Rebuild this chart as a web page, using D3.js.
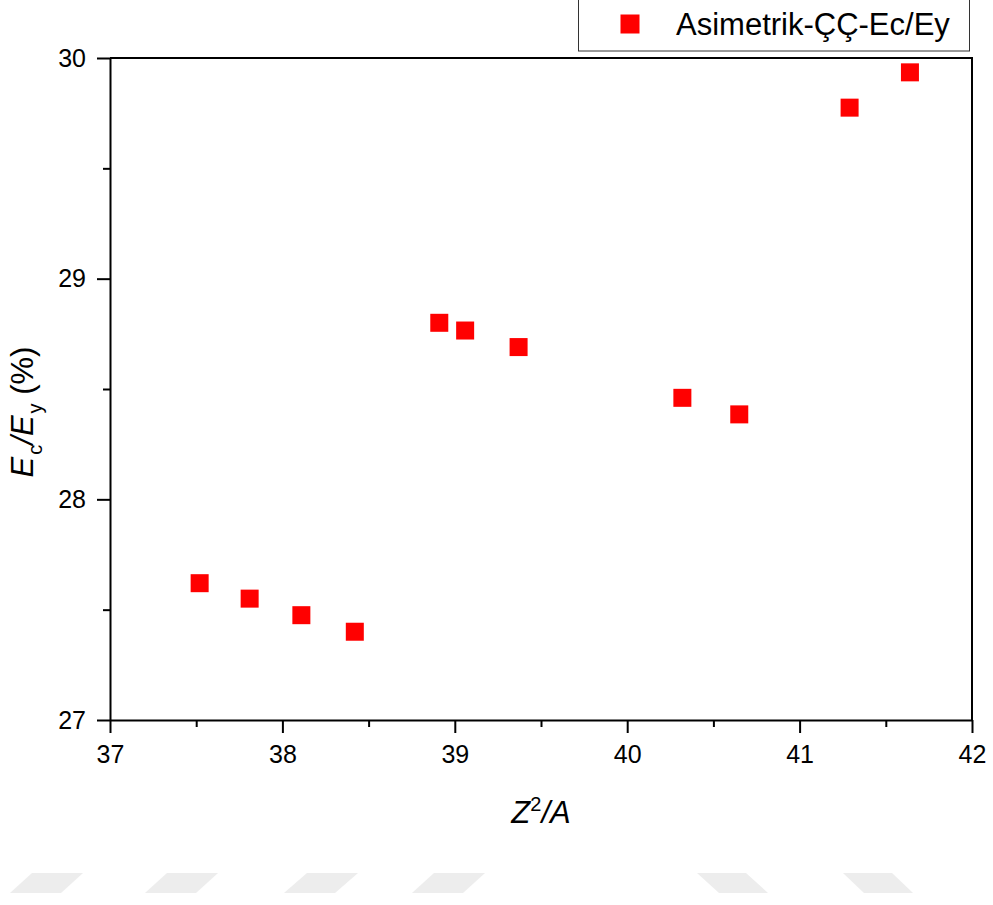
<!DOCTYPE html>
<html>
<head>
<meta charset="utf-8">
<script src="https://cdn.jsdelivr.net/npm/d3@7"></script>
<style>
  html, body { margin: 0; padding: 0; background: #fff; }
  svg { display: block; font-family: "Liberation Sans", Arial, sans-serif; }
</style>
</head>
<body>
<svg id="chart" width="993" height="905"></svg>
<script>
// ---- data ----
const xValues = [37.52, 37.81, 38.11, 38.42, 38.91, 39.06, 39.37, 40.32, 40.65, 41.29, 41.64];
const yValues = [27.62, 27.55, 27.475, 27.40, 28.80, 28.765, 28.69, 28.46, 28.385, 29.775, 29.935];
const seriesName = "Asimetrik-ÇÇ-Ec/Ey";
const xTicks = [37, 38, 39, 40, 41, 42];
const yTicks = [27, 28, 29, 30];
const xMinor = [37.5, 38.5, 39.5, 40.5, 41.5];
const yMinor = [27.5, 28.5, 29.5];

const svg = d3.select("#chart");
const L = 110, R = 972, T = 58, B = 720;

const x = d3.scaleLinear().domain([37, 42]).range([L, R]);
const y = d3.scaleLinear().domain([27, 30]).range([B, T]);

// watermark (decorative)
const wm = svg.append("g").attr("fill", "#ededed");
[[10, 32], [145, 167], [284, 307], [412, 434]].forEach(([b, t]) => {
  wm.append("path").attr("d", `M${b},893 L${t},873 L${t+51},873 L${b+51},893 Z`);
});
[[697, 719], [843, 864]].forEach(([t, b]) => {
  wm.append("path").attr("d", `M${t},873 L${t+49},873 L${b+49},893 L${b},893 Z`);
});

// frame top & right
svg.append("path")
  .attr("d", `M${L},${T} H${R} V${B}`)
  .attr("fill", "none").attr("stroke", "#000").attr("stroke-width", 2);

// x axis
svg.append("g").attr("transform", `translate(0,${B})`)
  .call(d3.axisBottom(x).tickValues(xTicks).tickFormat(d3.format("d"))
    .tickSize(13).tickSizeOuter(0).tickPadding(12));
svg.append("g").attr("transform", `translate(0,${B})`)
  .call(d3.axisBottom(x).tickValues(xMinor).tickFormat("").tickSize(7).tickSizeOuter(0))
  .select(".domain").remove();

// y axis
svg.append("g").attr("transform", `translate(${L},0)`)
  .call(d3.axisLeft(y).tickValues(yTicks).tickFormat(d3.format("d"))
    .tickSize(13).tickSizeOuter(0).tickPadding(11));
svg.append("g").attr("transform", `translate(${L},0)`)
  .call(d3.axisLeft(y).tickValues(yMinor).tickFormat("").tickSize(7).tickSizeOuter(0))
  .select(".domain").remove();

svg.selectAll(".tick line").attr("stroke", "#000").attr("stroke-width", 2);
svg.selectAll(".domain").attr("stroke", "#000").attr("stroke-width", 2);
svg.selectAll(".tick text").attr("fill", "#000").attr("font-size", 25)
  .attr("font-family", "'Liberation Sans', Arial, sans-serif");

// points
const S = 18;
const data = xValues.map((v, i) => ({x: v, y: yValues[i]}));
svg.append("g").selectAll("rect").data(data).join("rect")
  .attr("x", d => x(d.x) - S / 2)
  .attr("y", d => y(d.y) - S / 2)
  .attr("width", S).attr("height", S)
  .attr("fill", "#ff0000");

// x label
const xl = svg.append("text")
  .attr("x", 541).attr("y", 823)
  .attr("text-anchor", "middle")
  .attr("font-size", 31).attr("fill", "#000");
xl.append("tspan").attr("font-style", "italic").text("Z");
xl.append("tspan").attr("font-size", 20).attr("dy", -12).text("2");
xl.append("tspan").attr("font-style", "italic").attr("dy", 12).text("/A");

// y label
const yl = svg.append("text")
  .attr("transform", `translate(33,${412}) rotate(-90)`)
  .attr("text-anchor", "middle")
  .attr("font-size", 31).attr("fill", "#000");
yl.append("tspan").attr("font-style", "italic").text("E");
yl.append("tspan").attr("font-size", 20).attr("dx", 2).attr("dy", 9).text("c");
yl.append("tspan").attr("font-style", "italic").attr("dy", -9).text("/E");
yl.append("tspan").attr("font-size", 20).attr("dx", 2).attr("dy", 9).text("y");
yl.append("tspan").attr("dy", -9).text(" (%)");

// legend
const lg = svg.append("g");
lg.append("rect").attr("x", 578.5).attr("y", -2).attr("width", 391).attr("height", 53)
  .attr("fill", "#fff").attr("stroke", "#333").attr("stroke-width", 1);
lg.append("rect").attr("x", 630 - 9.5).attr("y", 24 - 9.5).attr("width", 19).attr("height", 19)
  .attr("fill", "#ff0000");
lg.append("text").attr("x", 676).attr("y", 35)
  .attr("font-size", 31).attr("fill", "#000").text(seriesName);
</script>
</body>
</html>
